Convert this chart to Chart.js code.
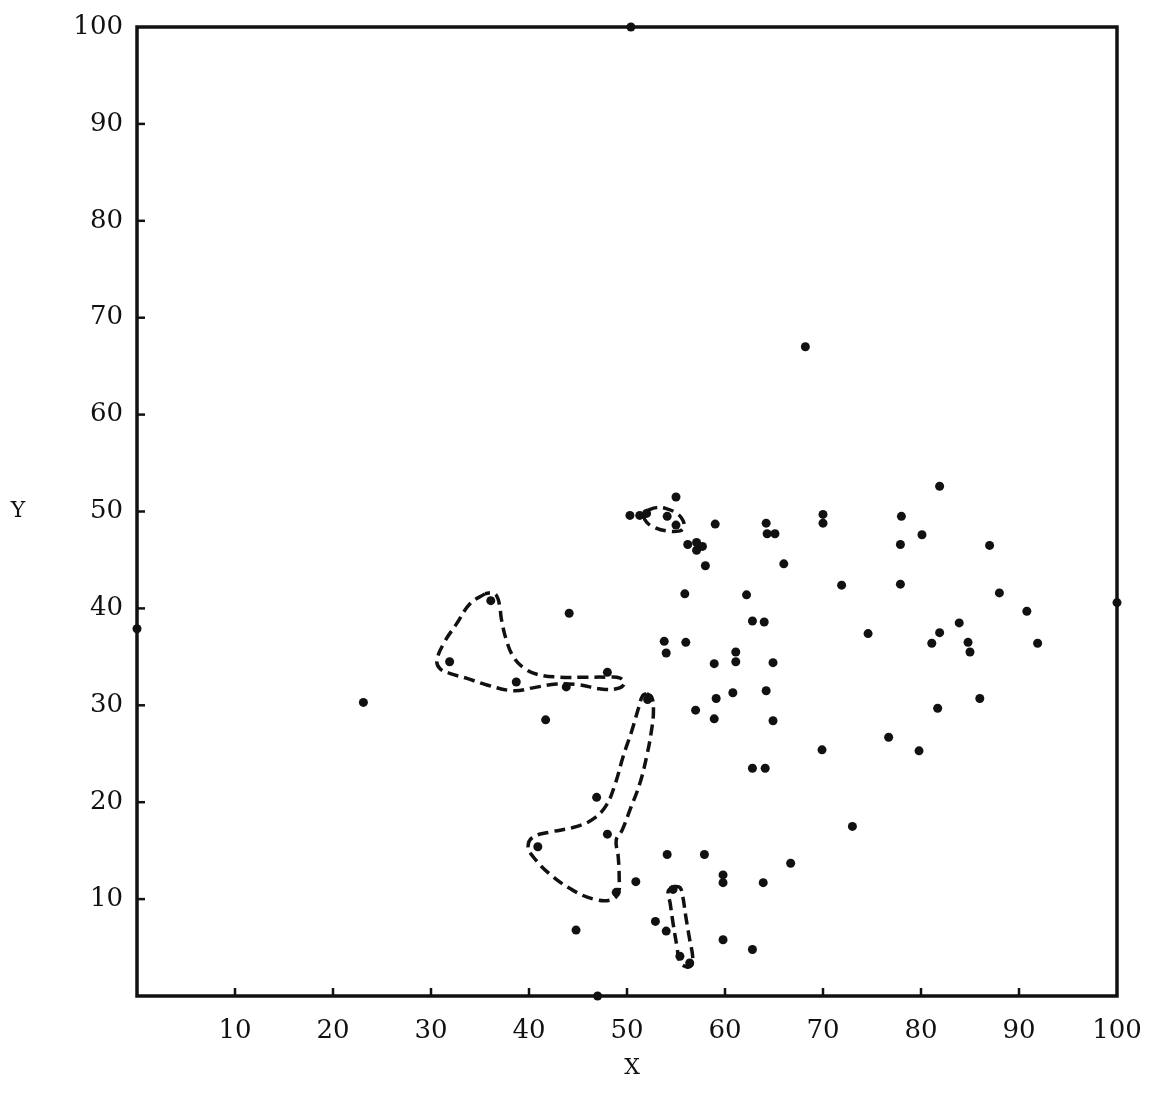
<!DOCTYPE html>
<html>
<head>
<meta charset="utf-8">
<script src="https://cdn.jsdelivr.net/npm/chart.js@4.4.1/dist/chart.umd.min.js"></script>
<style>
  html, body { margin: 0; padding: 0; background: #fff; }
  #wrap { width: 1151px; height: 1109px; }
</style>
</head>
<body>
<div id="wrap"><canvas id="grafico"></canvas></div>
<script>
// pontos (x, y)
const pontosX = [55.0, 50.3, 51.3, 52.0, 54.1, 55.0, 59.0, 64.2, 64.3, 65.1,
  56.2, 57.1, 57.7, 57.1, 58.0, 66.0, 55.9, 62.2, 62.8, 64.0,
  44.1, 53.8, 54.0, 56.0, 61.1, 61.1, 58.9, 64.9, 81.9, 70.0,
  70.0, 78.0, 80.1, 77.9, 87.0, 71.9, 77.9, 88.0, 90.8, 83.9,
  74.6, 81.9, 81.1, 84.8, 85.0, 91.9, 86.0, 81.7, 64.2, 60.8,
  59.1, 57.0, 58.9, 64.9, 52.1, 41.7, 69.9, 62.8, 64.1, 46.9,
  48.0, 40.9, 54.1, 57.9, 66.7, 50.9, 48.9, 59.8, 59.8, 63.9,
  54.7, 52.9, 54.0, 44.8, 59.8, 62.8, 55.4, 56.4, 36.1, 31.9,
  38.7, 48.0, 43.8, 23.1, 68.2, 0, 100, 50.4, 47.0, 73.0,
  76.7, 79.8];
const pontosY = [51.5, 49.6, 49.6, 49.8, 49.5, 48.6, 48.7, 48.8, 47.7, 47.7,
  46.6, 46.8, 46.4, 46.0, 44.4, 44.6, 41.5, 41.4, 38.7, 38.6,
  39.5, 36.6, 35.4, 36.5, 35.5, 34.5, 34.3, 34.4, 52.6, 49.7,
  48.8, 49.5, 47.6, 46.6, 46.5, 42.4, 42.5, 41.6, 39.7, 38.5,
  37.4, 37.5, 36.4, 36.5, 35.5, 36.4, 30.7, 29.7, 31.5, 31.3,
  30.7, 29.5, 28.6, 28.4, 30.6, 28.5, 25.4, 23.5, 23.5, 20.5,
  16.7, 15.4, 14.6, 14.6, 13.7, 11.8, 10.7, 12.5, 11.7, 11.7,
  11.0, 7.7, 6.7, 6.8, 5.8, 4.8, 4.1, 3.4, 40.8, 34.5,
  32.4, 33.4, 31.9, 30.3, 67.0, 37.9, 40.6, 100, 0, 17.5,
  26.7, 25.3];

// contornos tracejados
const contornoA = [[35.5, 41.5], [34.0, 40.5], [32.6, 38.4], [31.3, 36.4], [30.6, 34.6],
  [30.9, 33.8], [31.9, 33.3], [33.6, 32.8], [35.7, 32.1], [38.4, 31.5], [40.4, 31.8],
  [42.8, 32.2], [45.2, 32.1], [47.2, 31.7], [48.9, 31.7], [49.7, 32.2], [49.3, 32.8],
  [47.9, 32.9], [45.9, 32.9], [43.2, 32.9], [40.8, 33.2], [39.4, 33.9], [38.4, 35.0],
  [37.7, 36.7], [37.2, 38.8], [37.0, 40.3], [36.7, 41.3], [36.2, 41.6]];
const contornoB = [[52.0, 31.2], [52.5, 30.9], [52.7, 29.5], [52.5, 27.4], [52.0, 24.7],
  [51.3, 21.9], [50.3, 19.2], [49.5, 17.1], [48.9, 16.1], [49.1, 14.4], [49.2, 12.3],
  [49.1, 10.6], [48.3, 9.9], [46.6, 10.0], [44.5, 10.9], [42.1, 12.6], [40.4, 14.4],
  [39.9, 15.4], [40.4, 16.4], [42.1, 16.9], [44.9, 17.5], [46.6, 18.3], [47.9, 19.7],
  [48.8, 21.9], [49.6, 24.7], [50.5, 27.4], [51.2, 29.8], [51.6, 31.0]];
const contornoC = [[52.0, 50.1], [53.0, 50.4], [54.0, 50.3], [55.1, 49.8], [55.7, 49.1],
  [55.8, 48.4], [55.4, 48.0], [54.0, 48.0], [52.7, 48.4], [52.0, 48.9], [51.7, 49.6]];
const contornoD = [[54.7, 11.3], [55.4, 11.2], [55.7, 10.2], [56.0, 8.2], [56.4, 5.8],
  [56.7, 4.1], [56.6, 3.2], [56.1, 3.0], [55.4, 3.5], [55.1, 5.1], [54.7, 7.5],
  [54.4, 9.6], [54.2, 10.8]];

const ticksEixo = [10, 20, 30, 40, 50, 60, 70, 80, 90, 100];

const fonte = '"DejaVu Serif", "Liberation Serif", serif';
const cor = '#111';

function fechar(lista) {
  const pts = lista.map(p => ({ x: p[0], y: p[1] }));
  pts.push({ x: lista[0][0], y: lista[0][1] });
  return pts;
}

function contorno(lista) {
  return {
    data: fechar(lista),
    showLine: true,
    pointRadius: 0,
    borderColor: cor,
    borderWidth: 3.5,
    borderDash: [11, 6],
    tension: 0.4,
    fill: false
  };
}

// moldura, marcas para dentro e titulos dos eixos
const moldura = {
  id: 'moldura',
  afterDraw(chart) {
    const { ctx, chartArea: a, scales } = chart;
    ctx.save();
    ctx.strokeStyle = cor;
    ctx.lineWidth = 3.5;
    ctx.strokeRect(a.left, a.top, a.right - a.left, a.bottom - a.top);
    ctx.lineWidth = 2.5;
    ticksEixo.forEach(v => {
      if (v >= 100) return;
      const px = scales.x.getPixelForValue(v);
      ctx.beginPath();
      ctx.moveTo(px, a.bottom);
      ctx.lineTo(px, a.bottom - 8);
      ctx.stroke();
      const py = scales.y.getPixelForValue(v);
      ctx.beginPath();
      ctx.moveTo(a.left, py);
      ctx.lineTo(a.left + 8, py);
      ctx.stroke();
    });
    ctx.fillStyle = cor;
    ctx.font = '22px ' + fonte;
    ctx.textAlign = 'center';
    ctx.textBaseline = 'middle';
    ctx.fillText('X', (a.left + a.right) / 2 + 5, 1068);
    ctx.fillText('Y', 18, (a.top + a.bottom) / 2);
    ctx.restore();
  }
};

new Chart(document.getElementById('grafico'), {
  type: 'scatter',
  data: {
    datasets: [
      {
        data: pontosX.map((x, i) => ({ x: x, y: pontosY[i] })),
        pointRadius: 4.5,
        pointBackgroundColor: cor,
        pointBorderWidth: 0,
        showLine: false,
        clip: false
      },
      contorno(contornoA),
      contorno(contornoB),
      contorno(contornoC),
      contorno(contornoD)
    ]
  },
  options: {
    responsive: true,
    maintainAspectRatio: false,
    animation: false,
    layout: { padding: { top: 27, right: 34, left: 0, bottom: 0 } },
    plugins: {
      legend: { display: false },
      tooltip: { enabled: false }
    },
    scales: {
      x: {
        type: 'linear',
        min: 0,
        max: 100,
        afterFit: s => { s.height = 113; s.paddingLeft = 0; s.paddingRight = 0; },
        afterBuildTicks: s => { s.ticks = ticksEixo.map(v => ({ value: v })); },
        grid: { display: false },
        border: { display: false },
        ticks: {
          color: cor,
          font: { family: fonte, size: 26 },
          padding: 12,
          maxRotation: 0
        }
      },
      y: {
        type: 'linear',
        min: 0,
        max: 100,
        afterFit: s => { s.width = 137; s.paddingTop = 0; s.paddingBottom = 0; },
        afterBuildTicks: s => { s.ticks = ticksEixo.map(v => ({ value: v })); },
        grid: { display: false },
        border: { display: false },
        ticks: {
          color: cor,
          font: { family: fonte, size: 26 },
          padding: 6
        }
      }
    }
  },
  plugins: [moldura]
});
</script>
</body>
</html>
